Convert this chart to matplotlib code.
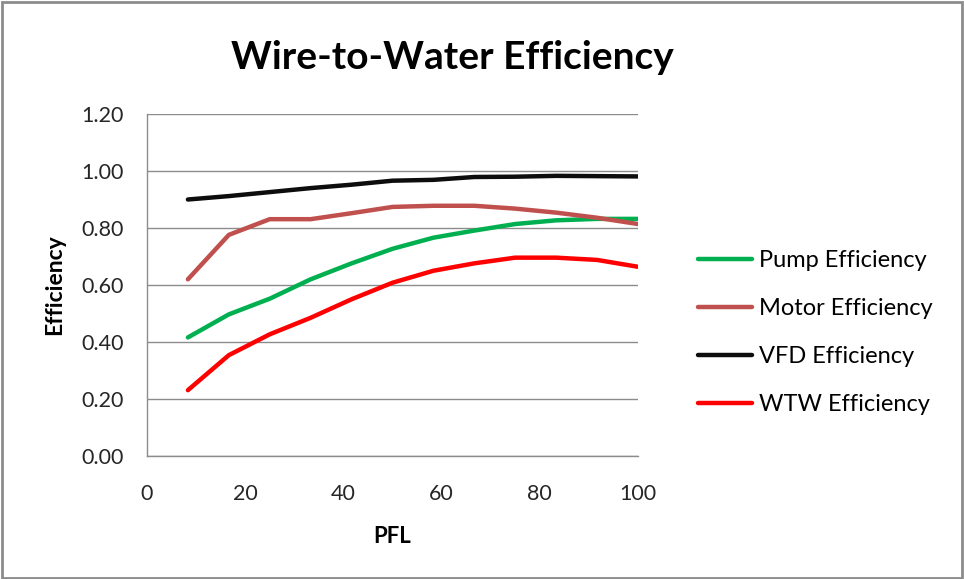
import matplotlib.pyplot as plt
from matplotlib.patches import Rectangle

plt.rcParams["font.family"] = ["Lato", "DejaVu Sans"]

# Part full load (%) and efficiency of each stage
pfl = [8.33, 16.67, 25.0, 33.33, 41.67, 50.0, 58.33, 66.67, 75.0, 83.33, 91.67, 100.0]
pump_eff = [0.416, 0.497, 0.552, 0.620, 0.676, 0.727, 0.766, 0.791, 0.814, 0.827, 0.832, 0.832]
motor_eff = [0.620, 0.776, 0.831, 0.831, 0.852, 0.874, 0.878, 0.878, 0.868, 0.854, 0.836, 0.814]
vfd_eff = [0.900, 0.912, 0.926, 0.940, 0.952, 0.966, 0.969, 0.979, 0.980, 0.983, 0.982, 0.981]
wtw_eff = [0.231, 0.354, 0.427, 0.485, 0.550, 0.608, 0.650, 0.676, 0.696, 0.696, 0.688, 0.664]

series = [
    ("Pump Efficiency", pump_eff, "#00B050"),
    ("Motor Efficiency", motor_eff, "#C0504D"),
    ("VFD Efficiency", vfd_eff, "#0D0D0D"),
    ("WTW Efficiency", wtw_eff, "#FF0000"),
]
x_ticks = [0, 20, 40, 60, 80, 100]
y_ticks = [0.0, 0.2, 0.4, 0.6, 0.8, 1.0, 1.2]

fig = plt.figure(figsize=(9.64, 5.79), dpi=100)
ax = fig.add_axes([0.1525, 0.2124, 0.5093, 0.5907])

for label, vals, color in series:
    ax.plot(pfl, vals, color=color, lw=3.2, label=label,
            solid_capstyle="round", solid_joinstyle="round", zorder=3)

ax.set_xlim(0, 100)
ax.set_ylim(0, 1.2)
ax.set_xticks(x_ticks)
ax.set_yticks(y_ticks)
ax.set_yticklabels([f"{v:.2f}" for v in y_ticks])
ax.tick_params(length=0, labelsize=15.5, colors="#262626")
ax.tick_params(axis="y", pad=17)
ax.tick_params(axis="x", pad=20)
ax.grid(axis="y", color="#8C8C8C", lw=1.0, zorder=1)
ax.set_axisbelow(True)

for side in ("top", "right"):
    ax.spines[side].set_visible(False)
for side in ("left", "bottom"):
    ax.spines[side].set_color("#8C8C8C")
    ax.spines[side].set_linewidth(1.0)

ax.set_xlabel("PFL", fontsize=16, fontweight="bold", labelpad=16)
ax.set_ylabel("Efficiency", fontsize=16.5, fontweight="bold", labelpad=11)

fig.text(0.469, 0.9, "Wire-to-Water Efficiency", fontsize=28,
         fontweight="bold", ha="center", va="center")

fig.legend(loc="center left", bbox_to_anchor=(0.714, 0.4257), frameon=False,
           fontsize=17, handlelength=2.3, handletextpad=0.28,
           labelspacing=1.15, borderaxespad=0)

# outer chart border
fig.add_artist(Rectangle((0.002, 0.002), 0.996, 0.995, transform=fig.transFigure,
                         fill=False, edgecolor="#8C8C8C", lw=2.0))

fig.savefig("out.png", dpi=100)
